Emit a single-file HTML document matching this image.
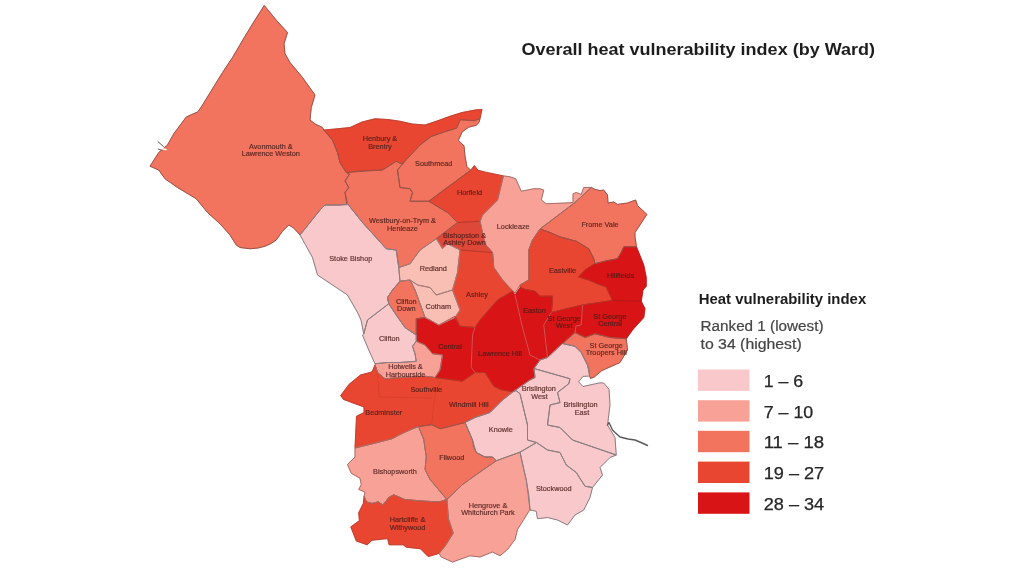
<!DOCTYPE html>
<html lang="en"><head><meta charset="utf-8"><title>Overall heat vulnerability index (by Ward)</title>
<style>
html,body{margin:0;padding:0;background:#fff;}
body{width:1024px;height:576px;overflow:hidden;position:relative;font-family:"Liberation Sans",sans-serif;}
svg{position:absolute;left:0;top:0;display:block;}
.lbl{font-family:"Liberation Sans",sans-serif;font-size:7.3px;fill:#4b1d1a;stroke:#4b1d1a;stroke-width:.18px;text-anchor:middle;dominant-baseline:central;opacity:.9;}
.title{font-family:"Liberation Sans",sans-serif;font-weight:bold;fill:#1d1d1d;}
.sub{font-family:"Liberation Sans",sans-serif;fill:#444;stroke:#444;stroke-width:.2px;}
.leg{font-family:"Liberation Sans",sans-serif;fill:#262626;stroke:#262626;stroke-width:.25px;}
</style></head><body>
<svg width="1024" height="576" viewBox="0 0 1024 576">
<rect width="1024" height="576" fill="#ffffff"/>
<g id="wards">
<polygon id="avon" fill="#f2745e" stroke="#f2745e" stroke-width="0.6" points="264.25,5.5 276.4,20.3 287.5,32.5 284,43.75 285,53.75 290,62.5 302.5,77.5 315,95 311.25,107.5 310,120 316,124.5 322.5,127.5 323.75,130 332.5,140 337.5,152.5 340,162.5 346.25,172.5 349.5,174 345,181 348.75,187.5 345,192.5 346.8,204.7 340,205 325,205 320,210 310,222.5 300,235 293.75,228 288.75,225 282.5,231.25 276.25,240 271,243.5 265,246.25 258,248 250,248.75 240,247.5 236.25,245 230,235 220,223.75 207.5,212.5 196.25,198.75 177.5,187.5 165,178.75 158.75,170 150,166.25 158.75,152.5 167.5,145 173.75,133.75 177.5,128.75 186.25,117 198,111.75 202.5,105 212.5,88.75 222.5,72.5 232.5,57.5 245,36.25 255,20"/>
<polygon id="henbury" fill="#e94631" stroke="#e94631" stroke-width="0.6" points="323.75,130 335,129 350,127.5 362,122 375,118.75 388,119.5 400,121.25 412,124 425,125 437,121 450,116.25 462,112.5 475,110 482,109.4 481,114 480,118.7 474.3,120.6 460.3,119.7 456.5,128.1 444.4,131.9 431.2,136.5 420,145 403.75,162.5 401,163.75 396.25,161.25 382.5,170 365,170.5 346.25,172.5 340,162.5 337.5,152.5 332.5,140"/>
<polygon id="southmead" fill="#f2745e" stroke="#f2745e" stroke-width="0.6" points="403.75,162.5 420,145 431.2,136.5 444.4,131.9 456.5,128.1 460.3,119.7 474.3,120.6 480,118.7 479,122.5 476.2,125.3 468.7,127.2 462.2,131.9 458.4,140.3 464,145.9 465,156.2 466.9,166.5 470.6,170.3 428.75,201.25 410,201.25 412.5,192.5 410,188.75 400,187.5 397.5,170"/>
<polygon id="horfield" fill="#e94631" stroke="#e94631" stroke-width="0.6" points="470.6,170.3 474.3,165.6 478.1,170.3 485.6,172.2 503.4,175.9 497.5,200 482.5,215 480,221.25 457.5,222.5 447.5,212.5 428.75,201.25"/>
<polygon id="lockleaze" fill="#f8a297" stroke="#f8a297" stroke-width="0.6" points="503.4,175.9 510,176.8 515.6,178.7 521.25,191.25 533.75,188.75 540,188.75 543.75,190 541.25,200 546.25,203.75 565,203 573,202.5 573,193.75 576.25,192.5 581.25,194.4 583.75,187.5 591.25,187.5 575,202.5 540,229 532.5,240 528.75,250 528.75,280 520,285 515,293 502.5,280 493.75,267.5 492.5,252.5 485,243.75 480,221.25 482.5,215 497.5,200"/>
<polygon id="frome" fill="#f2745e" stroke="#f2745e" stroke-width="0.6" points="591.25,187.5 595,189.4 600,190.6 603.75,190 607.5,195 608,203 613.75,202 617.5,204.4 627.5,203 635.6,200 637.5,205.6 646.9,214.4 635,232.5 635,237 636.5,246.9 623.75,246.9 621.25,252.5 617.5,258.75 607.5,260.6 595,263.75 593.75,258.75 588.75,248.75 576.25,241.25 560,236.9 550,232.5 540,229 575,202.5"/>
<polygon id="eastville" fill="#e94631" stroke="#e94631" stroke-width="0.6" points="540,229 550,232.5 560,236.9 576.25,241.25 588.75,248.75 593.75,258.75 595,263.75 585,270 578.75,276.9 588.75,280 597.5,283.75 606.25,286.9 608.75,292.5 612.5,300.5 582.5,305 551.25,312.5 552.5,300 552.5,296.25 540,296.25 535,291.25 525,289.4 520,287.5 520,285 528.75,280 528.75,250 532.5,240"/>
<polygon id="hillfields" fill="#d91416" stroke="#d91416" stroke-width="0.6" points="595,263.75 607.5,260.6 617.5,258.75 621.25,252.5 623.75,246.9 636.5,246.9 638.75,252.5 643.75,265 646.25,277.5 646.25,286.25 643,290 641.25,301.25 612.5,300.5 608.75,292.5 606.25,286.9 597.5,283.75 588.75,280 578.75,276.9 585,270"/>
<polygon id="sgcentral" fill="#d91416" stroke="#d91416" stroke-width="0.6" points="582.5,305 612.5,300.5 641.25,301.25 645,308.75 643.75,317.5 632.5,330 626.25,338.75 610,337.5 595,333.75 585,337.5 575,332.5 576,326 581.25,325"/>
<polygon id="sgwest" fill="#d91416" stroke="#d91416" stroke-width="0.6" points="551.25,312.5 582.5,305 581.25,325 576,326 575,332.5 562.5,343.5 547.5,357.5 543.75,325"/>
<polygon id="troopers" fill="#f2745e" stroke="#f2745e" stroke-width="0.6" points="562.5,343.5 575,332.5 585,337.5 595,333.75 610,337.5 626.25,338.75 627.5,350 620,362.5 601.8,370.6 594.3,377 590.5,378.5 589.7,376 588.7,368.7 587.5,365 581.25,352.5 575,346.25"/>
<polygon id="easton" fill="#d91416" stroke="#d91416" stroke-width="0.6" points="520,287.5 525,289.4 535,291.25 540,296.25 552.5,296.25 552.5,300 551.25,312.5 543.75,325 547.5,357.5 540,360 530,355 522.5,327.5 515,295"/>
<polygon id="lawrence" fill="#d91416" stroke="#d91416" stroke-width="0.6" points="515,295 522.5,327.5 530,355 540,360 534,368.5 535,377.5 530,380 513,391.8 501,389.8 493.75,386.25 485,372.5 475,372.5 471.25,367.5 472.5,335 475,327.5 480,320 497.5,300 512.5,291.25"/>
<polygon id="central" fill="#d91416" stroke="#d91416" stroke-width="0.6" points="416.25,318.75 425,317.5 430,320 438.75,325 455,316.25 460,326.25 475,327.5 472.5,335 471.25,367.5 475,372.5 462.5,381.25 435,377.5 440,370 442.5,355 432.5,353.75 425,345 416.25,341.25 416.25,335"/>
<polygon id="bishopston" fill="#df4838" stroke="#df4838" stroke-width="0.6" points="457.5,222.5 480,221.25 485,243.75 492.5,252.5 460,250 447.5,243.75 442.5,248.75 436.25,238.75"/>
<polygon id="ashley" fill="#e94631" stroke="#e94631" stroke-width="0.6" points="460,250 492.5,252.5 493.75,267.5 502.5,280 512.5,291.25 497.5,300 480,320 475,327.5 460,326.25 455,317.5 460,310 452.5,290 457.5,272.5"/>
<polygon id="westbury" fill="#f2745e" stroke="#f2745e" stroke-width="0.6" points="346.25,172.5 382.5,170 396.25,161.25 401,163.75 403.75,162.5 397.5,170 400,187.5 410,188.75 412.5,192.5 410,201.25 428.75,201.25 447.5,212.5 457.5,222.5 436.25,238.75 420,250 410,263.75 398.75,267.5 396.25,250 386.25,248.75 362.5,222.5 347.5,203.75 345,192.5 348.75,187.5 345,181 349.5,174"/>
<polygon id="stoke" fill="#f9c8ca" stroke="#f9c8ca" stroke-width="0.6" points="347.5,203.75 362.5,222.5 386.25,248.75 396.25,250 398.75,267.5 400,281.25 392.5,290 387.5,297.5 388.75,303.75 367.5,320 363.75,334 361,320 357.5,312.5 347.5,295 317.5,275 312.5,257.5 300,235 310,222.5 320,210 325,205 340,205"/>
<polygon id="redland" fill="#f9bfb5" stroke="#f9bfb5" stroke-width="0.6" points="420,250 436.25,238.75 442.5,248.75 447.5,243.75 460,250 457.5,272.5 452.5,290 436.25,295 430,287.5 417.5,285 410,280 400,281.25 398.75,267.5 410,263.75"/>
<polygon id="cotham" fill="#f9bfb5" stroke="#f9bfb5" stroke-width="0.6" points="410,280 417.5,285 430,287.5 436.25,295 452.5,290 460,310 455,317.5 438.75,325 430,320 425,317.5 415,290"/>
<polygon id="cliftondown" fill="#f2745e" stroke="#f2745e" stroke-width="0.6" points="400,281.25 410,280 415,290 425,317.5 416.25,318.75 416.25,335 405,327.5 396.25,315 388.75,303.75 387.5,297.5 392.5,290"/>
<polygon id="clifton" fill="#f9c8ca" stroke="#f9c8ca" stroke-width="0.6" points="388.75,303.75 396.25,315 405,327.5 416.25,335 416.25,341.25 412.5,346.25 415,353.75 416.25,361.25 400,362.5 387.5,362.5 375,363.75 368.75,350 362.5,335 363.75,334 367.5,320"/>
<polygon id="hotwells" fill="#f8a297" stroke="#f8a297" stroke-width="0.6" points="375,363.75 387.5,362.5 400,362.5 416.25,361.25 415,353.75 412.5,346.25 416.25,341.25 425,345 432.5,353.75 442.5,355 440,370 435,377.5 425,376.25 400,377.5 385,378.75 377.5,372.5"/>
<polygon id="south3" fill="#e94631" stroke="#e94631" stroke-width="0.6" points="375,365 377.5,372.5 385,378.75 400,377.5 425,376.25 435,377.5 462.5,381.25 475,372.5 485,372.5 493.75,386.25 501,389.8 513,391.8 502.5,400 490,412.5 475,417.5 465,422.5 440,428.75 431.6,424.7 418.5,426.5 411,429.5 400,434.5 392,438.75 373.5,443.5 355,448 356.5,416.25 364,412.5 364,407 343.5,399.4 340.7,395.6 349,384.4 360.4,375 372,372"/>
<polygon id="knowle" fill="#f9c8ca" stroke="#f9c8ca" stroke-width="0.6" points="513,391.8 516,390.5 520,393.75 527.5,425 527.5,440 536.5,442.5 520,452.2 496.25,460.75 492.5,457 485,457 476.25,452.5 472.5,440 465,422.5 475,417.5 490,412.5 502.5,400"/>
<polygon id="filwood" fill="#f2745e" stroke="#f2745e" stroke-width="0.6" points="418.5,426.5 431.6,424.7 440,428.75 465,422.5 472.5,440 473.75,447 476.25,452.5 485,457 492.5,457 496.25,460.75 480,472 462.5,484.5 446.9,499.5 430,479.5 425,469.5 426.25,457 423.75,439.5"/>
<polygon id="bishopsworth" fill="#f8a297" stroke="#f8a297" stroke-width="0.6" points="355,448 373.5,443.5 392,438.75 400,434.5 411,429.5 418.5,426.5 423.75,439.5 426.25,457 425,469.5 430,479.5 446.9,499.5 439.1,501.9 423.5,501.1 404.75,499.5 393.8,494.8 389.1,497.2 382.9,505 378.2,501.9 372,503.4 366.5,501.9 364.1,496.4 365,492 358.75,489.5 361.25,484.5 360,478.25 351.25,473.25 347.5,464.5 355,457"/>
<polygon id="hartcliffe" fill="#e94631" stroke="#e94631" stroke-width="0.6" points="364.1,496.4 366.5,501.9 372,503.4 378.2,501.9 382.9,505 389.1,497.2 393.8,494.8 404.75,499.5 423.5,501.1 439.1,501.9 446.9,499.5 448.5,519 453.2,533.1 445.4,545.6 439.1,553.4 428.2,556.6 420.4,548.75 406.3,547.2 403.2,544.8 389.1,544.8 387.6,538.6 372,540.2 367.25,544.8 356.3,541 350.8,526.9 359.4,520.6 358.7,512.8 363.3,503.4"/>
<polygon id="hengrove" fill="#f8a297" stroke="#f8a297" stroke-width="0.6" points="446.9,499.5 462.5,484.5 480,472 496.25,460.75 520,452.2 523.75,469.5 526.25,480 528.75,494.5 530,509.5 523.75,519.5 517.5,529.5 515,539.5 507.5,549.5 500,555.75 492.5,552 480,557 470,555.75 452.5,562 441.25,557 439.1,553.4 445.4,545.6 453.2,533.1 448.5,519"/>
<polygon id="stockwood" fill="#f9c8ca" stroke="#f9c8ca" stroke-width="0.6" points="520,452.2 536.5,442.5 547.5,450 560,452.5 566.25,465 576.25,472.5 585,486.25 592.5,487.5 590,497.5 583.75,510 575,515 567.5,525 557.5,520 547.5,517.5 537.5,518.75 536.25,511.25 530,510 526.25,480"/>
<polygon id="breast" fill="#f9c8ca" stroke="#f9c8ca" stroke-width="0.6" points="534,368.5 540,360 547.5,357.5 562.5,343.5 575,346.25 581.25,352.5 587.5,365 589.7,376 583,376.4 578.6,381.8 583,386.5 592,384.5 600,382.8 603.7,383 609,389.3 610,405 607.5,425 615,437.5 616.25,455 572.5,440 560,427.5 547.5,425 550,405 560,402.5 557.5,392.5 568.75,383.75 570,378.75"/>
<polygon id="brwest" fill="#f9c8ca" stroke="#f9c8ca" stroke-width="0.6" points="534,368.5 570,378.75 568.75,383.75 557.5,392.5 560,402.5 550,405 547.5,425 560,427.5 572.5,440 616.25,455 610,457.5 600,467.5 602.5,475 592.5,487.5 585,486.25 576.25,472.5 566.25,465 560,452.5 547.5,450 536.5,442.5 527.5,440 527.5,425 520,393.75 516,390.5 513,391.8 530,380 535,377.5 534,368.5"/>
</g>
<g id="borders" fill="none" stroke-linejoin="round">
<polygon stroke="#b41616" stroke-opacity="0.7" stroke-width="1" points="595,263.75 607.5,260.6 617.5,258.75 621.25,252.5 623.75,246.9 636.5,246.9 638.75,252.5 643.75,265 646.25,277.5 646.25,286.25 643,290 641.25,301.25 612.5,300.5 608.75,292.5 606.25,286.9 597.5,283.75 588.75,280 578.75,276.9 585,270"/>
<polygon stroke="#b41616" stroke-opacity="0.7" stroke-width="1" points="582.5,305 612.5,300.5 641.25,301.25 645,308.75 643.75,317.5 632.5,330 626.25,338.75 610,337.5 595,333.75 585,337.5 575,332.5 576,326 581.25,325"/>
<polygon stroke="#b41616" stroke-opacity="0.7" stroke-width="1" points="551.25,312.5 582.5,305 581.25,325 576,326 575,332.5 562.5,343.5 547.5,357.5 543.75,325"/>
<polygon stroke="#b41616" stroke-opacity="0.7" stroke-width="1" points="520,287.5 525,289.4 535,291.25 540,296.25 552.5,296.25 552.5,300 551.25,312.5 543.75,325 547.5,357.5 540,360 530,355 522.5,327.5 515,295"/>
<polygon stroke="#b41616" stroke-opacity="0.7" stroke-width="1" points="515,295 522.5,327.5 530,355 540,360 534,368.5 535,377.5 530,380 513,391.8 501,389.8 493.75,386.25 485,372.5 475,372.5 471.25,367.5 472.5,335 475,327.5 480,320 497.5,300 512.5,291.25"/>
<polygon stroke="#b41616" stroke-opacity="0.7" stroke-width="1" points="416.25,318.75 425,317.5 430,320 438.75,325 455,316.25 460,326.25 475,327.5 472.5,335 471.25,367.5 475,372.5 462.5,381.25 435,377.5 440,370 442.5,355 432.5,353.75 425,345 416.25,341.25 416.25,335"/>
<polygon stroke="#b3382b" stroke-opacity="0.5" stroke-width="1" points="457.5,222.5 480,221.25 485,243.75 492.5,252.5 460,250 447.5,243.75 442.5,248.75 436.25,238.75"/>
<polygon stroke="#b3382b" stroke-opacity="0.8" stroke-width="1" points="323.75,130 335,129 350,127.5 362,122 375,118.75 388,119.5 400,121.25 412,124 425,125 437,121 450,116.25 462,112.5 475,110 482,109.4 481,114 480,118.7 474.3,120.6 460.3,119.7 456.5,128.1 444.4,131.9 431.2,136.5 420,145 403.75,162.5 401,163.75 396.25,161.25 382.5,170 365,170.5 346.25,172.5 340,162.5 337.5,152.5 332.5,140"/>
<polygon stroke="#b3382b" stroke-opacity="0.8" stroke-width="1" points="470.6,170.3 474.3,165.6 478.1,170.3 485.6,172.2 503.4,175.9 497.5,200 482.5,215 480,221.25 457.5,222.5 447.5,212.5 428.75,201.25"/>
<polygon stroke="#b3382b" stroke-opacity="0.8" stroke-width="1" points="540,229 550,232.5 560,236.9 576.25,241.25 588.75,248.75 593.75,258.75 595,263.75 585,270 578.75,276.9 588.75,280 597.5,283.75 606.25,286.9 608.75,292.5 612.5,300.5 582.5,305 551.25,312.5 552.5,300 552.5,296.25 540,296.25 535,291.25 525,289.4 520,287.5 520,285 528.75,280 528.75,250 532.5,240"/>
<polygon stroke="#b3382b" stroke-opacity="0.8" stroke-width="1" points="460,250 492.5,252.5 493.75,267.5 502.5,280 512.5,291.25 497.5,300 480,320 475,327.5 460,326.25 455,317.5 460,310 452.5,290 457.5,272.5"/>
<polygon stroke="#b3382b" stroke-opacity="0.8" stroke-width="1" points="375,365 377.5,372.5 385,378.75 400,377.5 425,376.25 435,377.5 462.5,381.25 475,372.5 485,372.5 493.75,386.25 501,389.8 513,391.8 502.5,400 490,412.5 475,417.5 465,422.5 440,428.75 431.6,424.7 418.5,426.5 411,429.5 400,434.5 392,438.75 373.5,443.5 355,448 356.5,416.25 364,412.5 364,407 343.5,399.4 340.7,395.6 349,384.4 360.4,375 372,372"/>
<polygon stroke="#b3382b" stroke-opacity="0.8" stroke-width="1" points="364.1,496.4 366.5,501.9 372,503.4 378.2,501.9 382.9,505 389.1,497.2 393.8,494.8 404.75,499.5 423.5,501.1 439.1,501.9 446.9,499.5 448.5,519 453.2,533.1 445.4,545.6 439.1,553.4 428.2,556.6 420.4,548.75 406.3,547.2 403.2,544.8 389.1,544.8 387.6,538.6 372,540.2 367.25,544.8 356.3,541 350.8,526.9 359.4,520.6 358.7,512.8 363.3,503.4"/>
<polygon stroke="#98544a" stroke-opacity="1" stroke-width="1" points="264.25,5.5 276.4,20.3 287.5,32.5 284,43.75 285,53.75 290,62.5 302.5,77.5 315,95 311.25,107.5 310,120 316,124.5 322.5,127.5 323.75,130 332.5,140 337.5,152.5 340,162.5 346.25,172.5 349.5,174 345,181 348.75,187.5 345,192.5 346.8,204.7 340,205 325,205 320,210 310,222.5 300,235 293.75,228 288.75,225 282.5,231.25 276.25,240 271,243.5 265,246.25 258,248 250,248.75 240,247.5 236.25,245 230,235 220,223.75 207.5,212.5 196.25,198.75 177.5,187.5 165,178.75 158.75,170 150,166.25 158.75,152.5 167.5,145 173.75,133.75 177.5,128.75 186.25,117 198,111.75 202.5,105 212.5,88.75 222.5,72.5 232.5,57.5 245,36.25 255,20"/>
<polygon stroke="#98544a" stroke-opacity="1" stroke-width="1" points="403.75,162.5 420,145 431.2,136.5 444.4,131.9 456.5,128.1 460.3,119.7 474.3,120.6 480,118.7 479,122.5 476.2,125.3 468.7,127.2 462.2,131.9 458.4,140.3 464,145.9 465,156.2 466.9,166.5 470.6,170.3 428.75,201.25 410,201.25 412.5,192.5 410,188.75 400,187.5 397.5,170"/>
<polygon stroke="#98544a" stroke-opacity="1" stroke-width="1" points="591.25,187.5 595,189.4 600,190.6 603.75,190 607.5,195 608,203 613.75,202 617.5,204.4 627.5,203 635.6,200 637.5,205.6 646.9,214.4 635,232.5 635,237 636.5,246.9 623.75,246.9 621.25,252.5 617.5,258.75 607.5,260.6 595,263.75 593.75,258.75 588.75,248.75 576.25,241.25 560,236.9 550,232.5 540,229 575,202.5"/>
<polygon stroke="#98544a" stroke-opacity="1" stroke-width="1" points="562.5,343.5 575,332.5 585,337.5 595,333.75 610,337.5 626.25,338.75 627.5,350 620,362.5 601.8,370.6 594.3,377 590.5,378.5 589.7,376 588.7,368.7 587.5,365 581.25,352.5 575,346.25"/>
<polygon stroke="#98544a" stroke-opacity="1" stroke-width="1" points="346.25,172.5 382.5,170 396.25,161.25 401,163.75 403.75,162.5 397.5,170 400,187.5 410,188.75 412.5,192.5 410,201.25 428.75,201.25 447.5,212.5 457.5,222.5 436.25,238.75 420,250 410,263.75 398.75,267.5 396.25,250 386.25,248.75 362.5,222.5 347.5,203.75 345,192.5 348.75,187.5 345,181 349.5,174"/>
<polygon stroke="#98544a" stroke-opacity="1" stroke-width="1" points="400,281.25 410,280 415,290 425,317.5 416.25,318.75 416.25,335 405,327.5 396.25,315 388.75,303.75 387.5,297.5 392.5,290"/>
<polygon stroke="#98544a" stroke-opacity="1" stroke-width="1" points="418.5,426.5 431.6,424.7 440,428.75 465,422.5 472.5,440 473.75,447 476.25,452.5 485,457 492.5,457 496.25,460.75 480,472 462.5,484.5 446.9,499.5 430,479.5 425,469.5 426.25,457 423.75,439.5"/>
<polygon stroke="#a66f68" stroke-opacity="1" stroke-width="1" points="503.4,175.9 510,176.8 515.6,178.7 521.25,191.25 533.75,188.75 540,188.75 543.75,190 541.25,200 546.25,203.75 565,203 573,202.5 573,193.75 576.25,192.5 581.25,194.4 583.75,187.5 591.25,187.5 575,202.5 540,229 532.5,240 528.75,250 528.75,280 520,285 515,293 502.5,280 493.75,267.5 492.5,252.5 485,243.75 480,221.25 482.5,215 497.5,200"/>
<polygon stroke="#a66f68" stroke-opacity="1" stroke-width="1" points="375,363.75 387.5,362.5 400,362.5 416.25,361.25 415,353.75 412.5,346.25 416.25,341.25 425,345 432.5,353.75 442.5,355 440,370 435,377.5 425,376.25 400,377.5 385,378.75 377.5,372.5"/>
<polygon stroke="#a66f68" stroke-opacity="1" stroke-width="1" points="355,448 373.5,443.5 392,438.75 400,434.5 411,429.5 418.5,426.5 423.75,439.5 426.25,457 425,469.5 430,479.5 446.9,499.5 439.1,501.9 423.5,501.1 404.75,499.5 393.8,494.8 389.1,497.2 382.9,505 378.2,501.9 372,503.4 366.5,501.9 364.1,496.4 365,492 358.75,489.5 361.25,484.5 360,478.25 351.25,473.25 347.5,464.5 355,457"/>
<polygon stroke="#a66f68" stroke-opacity="1" stroke-width="1" points="446.9,499.5 462.5,484.5 480,472 496.25,460.75 520,452.2 523.75,469.5 526.25,480 528.75,494.5 530,509.5 523.75,519.5 517.5,529.5 515,539.5 507.5,549.5 500,555.75 492.5,552 480,557 470,555.75 452.5,562 441.25,557 439.1,553.4 445.4,545.6 453.2,533.1 448.5,519"/>
<polygon stroke="#a37c77" stroke-opacity="1" stroke-width="1" points="420,250 436.25,238.75 442.5,248.75 447.5,243.75 460,250 457.5,272.5 452.5,290 436.25,295 430,287.5 417.5,285 410,280 400,281.25 398.75,267.5 410,263.75"/>
<polygon stroke="#a37c77" stroke-opacity="1" stroke-width="1" points="410,280 417.5,285 430,287.5 436.25,295 452.5,290 460,310 455,317.5 438.75,325 430,320 425,317.5 415,290"/>
<polygon stroke="#8a7d80" stroke-opacity="1" stroke-width="1" points="347.5,203.75 362.5,222.5 386.25,248.75 396.25,250 398.75,267.5 400,281.25 392.5,290 387.5,297.5 388.75,303.75 367.5,320 363.75,334 361,320 357.5,312.5 347.5,295 317.5,275 312.5,257.5 300,235 310,222.5 320,210 325,205 340,205"/>
<polygon stroke="#8a7d80" stroke-opacity="1" stroke-width="1" points="388.75,303.75 396.25,315 405,327.5 416.25,335 416.25,341.25 412.5,346.25 415,353.75 416.25,361.25 400,362.5 387.5,362.5 375,363.75 368.75,350 362.5,335 363.75,334 367.5,320"/>
<polygon stroke="#8a7d80" stroke-opacity="1" stroke-width="1" points="513,391.8 516,390.5 520,393.75 527.5,425 527.5,440 536.5,442.5 520,452.2 496.25,460.75 492.5,457 485,457 476.25,452.5 472.5,440 465,422.5 475,417.5 490,412.5 502.5,400"/>
<polygon stroke="#8a7d80" stroke-opacity="1" stroke-width="1" points="520,452.2 536.5,442.5 547.5,450 560,452.5 566.25,465 576.25,472.5 585,486.25 592.5,487.5 590,497.5 583.75,510 575,515 567.5,525 557.5,520 547.5,517.5 537.5,518.75 536.25,511.25 530,510 526.25,480"/>
<polygon stroke="#8a7d80" stroke-opacity="1" stroke-width="1" points="534,368.5 540,360 547.5,357.5 562.5,343.5 575,346.25 581.25,352.5 587.5,365 589.7,376 583,376.4 578.6,381.8 583,386.5 592,384.5 600,382.8 603.7,383 609,389.3 610,405 607.5,425 615,437.5 616.25,455 572.5,440 560,427.5 547.5,425 550,405 560,402.5 557.5,392.5 568.75,383.75 570,378.75"/>
<polygon stroke="#8a7d80" stroke-opacity="1" stroke-width="1" points="534,368.5 570,378.75 568.75,383.75 557.5,392.5 560,402.5 550,405 547.5,425 560,427.5 572.5,440 616.25,455 610,457.5 600,467.5 602.5,475 592.5,487.5 585,486.25 576.25,472.5 566.25,465 560,452.5 547.5,450 536.5,442.5 527.5,440 527.5,425 520,393.75 516,390.5 513,391.8 530,380 535,377.5 534,368.5"/>
<polyline stroke="#ef7a78" stroke-opacity=".75" stroke-width="0.8" points="475,327.5 472.5,335 471.25,367.5 475,372.5"/>
<polyline stroke="#ef7a78" stroke-opacity=".75" stroke-width="0.8" points="515,295 522.5,327.5 530,355 540,360"/>
<polyline stroke="#ef7a78" stroke-opacity=".75" stroke-width="0.8" points="551.25,312.5 543.75,325 547.5,357.5"/>
<polyline stroke="#ef7a78" stroke-opacity=".75" stroke-width="0.8" points="582.5,305 581.25,325 576,326 575,332.5"/>
</g>
<path d="M377.5 373 L379 397 L432 398 M435.4 392 L431.7 423.7 M435.4 392 L441 381" stroke="#a8301f" stroke-opacity=".28" stroke-width="0.9" fill="none"/>
<path d="M157.7 141.4 L163.6 146.6 M157.8 149 L162.5 150.2" stroke="#6a5553" stroke-width="1" fill="none"/>
<path d="M159 147.9 L166.6 149.8" stroke="#ffffff" stroke-width="1.5" fill="none"/>
<polyline fill="none" stroke="#59595b" stroke-width="1.4" stroke-linecap="round" stroke-linejoin="round" points="607.5,425 609,422.5 612.5,430 615,432.5 620,437 628,439 635,440 641,442.5 647.5,445.5"/>
<g id="labels">
<text class="lbl" x="270.8" y="146.25">Avonmouth &amp;</text>
<text class="lbl" x="270.8" y="153.75">Lawrence Weston</text>
<text class="lbl" x="380" y="138">Henbury &amp;</text>
<text class="lbl" x="380" y="146.25">Brentry</text>
<text class="lbl" x="433.75" y="163.75">Southmead</text>
<text class="lbl" x="469.5" y="192">Horfield</text>
<text class="lbl" x="513.25" y="226.25">Lockleaze</text>
<text class="lbl" x="600" y="224.25">Frome Vale</text>
<text class="lbl" x="562.5" y="270.5">Eastville</text>
<text class="lbl" x="620.5" y="275.75">Hillfields</text>
<text class="lbl" x="402.5" y="220">Westbury-on-Trym &amp;</text>
<text class="lbl" x="402.5" y="228">Henleaze</text>
<text class="lbl" x="464.5" y="235.5">Bishopston &amp;</text>
<text class="lbl" x="464.5" y="242">Ashley Down</text>
<text class="lbl" x="350.75" y="258.25">Stoke Bishop</text>
<text class="lbl" x="433.25" y="268">Redland</text>
<text class="lbl" x="438.25" y="306.75">Cotham</text>
<text class="lbl" x="406.25" y="301.25">Clifton</text>
<text class="lbl" x="406.25" y="308.75">Down</text>
<text class="lbl" x="477" y="294.5">Ashley</text>
<text class="lbl" x="534.5" y="310">Easton</text>
<text class="lbl" x="564.25" y="318.75">St George</text>
<text class="lbl" x="564.25" y="325.75">West</text>
<text class="lbl" x="610" y="316.25">St George</text>
<text class="lbl" x="610" y="323.75">Central</text>
<text class="lbl" x="606.25" y="345">St George</text>
<text class="lbl" x="606.25" y="352.5">Troopers Hill</text>
<text class="lbl" x="450" y="346.25">Central</text>
<text class="lbl" x="500" y="353.75">Lawrence Hill</text>
<text class="lbl" x="389.25" y="338.75">Clifton</text>
<text class="lbl" x="405.5" y="366.75">Hotwells &amp;</text>
<text class="lbl" x="405.5" y="374.25">Harbourside</text>
<text class="lbl" x="426.25" y="389.25">Southville</text>
<text class="lbl" x="383.75" y="412.5">Bedminster</text>
<text class="lbl" x="468.75" y="404.5">Windmill Hill</text>
<text class="lbl" x="500.75" y="429.25">Knowle</text>
<text class="lbl" x="538.75" y="388.75">Brislington</text>
<text class="lbl" x="539.5" y="396.25">West</text>
<text class="lbl" x="580.5" y="404.25">Brislington</text>
<text class="lbl" x="582" y="412.5">East</text>
<text class="lbl" x="451.75" y="457.5">Filwood</text>
<text class="lbl" x="395" y="471.25">Bishopsworth</text>
<text class="lbl" x="407.5" y="519.5">Hartcliffe &amp;</text>
<text class="lbl" x="407.5" y="527">Withywood</text>
<text class="lbl" x="488" y="505.25">Hengrove &amp;</text>
<text class="lbl" x="488" y="512.75">Whitchurch Park</text>
<text class="lbl" x="553.75" y="488.75">Stockwood</text>
</g>
<text class="title" x="521.5" y="54.8" font-size="17.3" textLength="353.5" lengthAdjust="spacingAndGlyphs">Overall heat vulnerability index (by Ward)</text>
<text class="title" x="698.7" y="304" font-size="15.1" textLength="167.5" lengthAdjust="spacingAndGlyphs">Heat vulnerability index</text>
<text class="sub" x="700.5" y="331.2" font-size="14" textLength="123" lengthAdjust="spacingAndGlyphs">Ranked 1 (lowest)</text>
<text class="sub" x="700.5" y="349.1" font-size="14" textLength="101.2" lengthAdjust="spacingAndGlyphs">to 34 (highest)</text>
<rect x="698" y="369.5" width="51.5" height="21.4" fill="#f9c8ca"/>
<text class="leg" x="763.7" y="386.9" font-size="15.7" textLength="39.5" lengthAdjust="spacingAndGlyphs">1 – 6</text>
<rect x="698" y="400.2" width="51.5" height="21.4" fill="#f8a297"/>
<text class="leg" x="763.7" y="417.6" font-size="15.7" textLength="49.5" lengthAdjust="spacingAndGlyphs">7 – 10</text>
<rect x="698" y="430.8" width="51.5" height="21.4" fill="#f2745e"/>
<text class="leg" x="763.7" y="448.2" font-size="15.7" textLength="60.5" lengthAdjust="spacingAndGlyphs">11 – 18</text>
<rect x="698" y="461.6" width="51.5" height="21.4" fill="#e94631"/>
<text class="leg" x="763.7" y="479" font-size="15.7" textLength="60.5" lengthAdjust="spacingAndGlyphs">19 – 27</text>
<rect x="698" y="492.4" width="51.5" height="21.4" fill="#d91416"/>
<text class="leg" x="763.7" y="509.8" font-size="15.7" textLength="60.5" lengthAdjust="spacingAndGlyphs">28 – 34</text>
</svg></body></html>
